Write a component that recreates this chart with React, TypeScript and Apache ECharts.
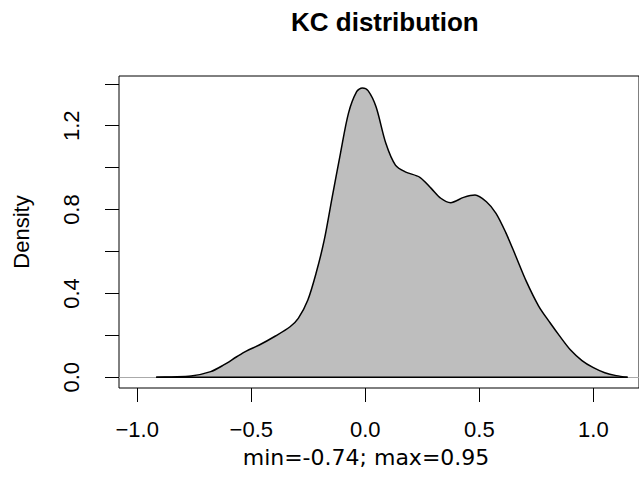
import React, { useEffect, useRef } from "react";
import * as echarts from "echarts";

const titleText = "KC distribution";
const yAxisTitle = "Density";
const xAxisTitle = "min=-0.74; max=0.95";

const kcX = [-0.917, -0.85, -0.764, -0.678, -0.621, -0.564, -0.522, -0.465, -0.394, -0.33, -0.294, -0.252, -0.216, -0.18, -0.145, -0.109, -0.074, -0.038, -0.013, 0.012, 0.047, 0.09, 0.132, 0.175, 0.239, 0.289, 0.331, 0.374, 0.431, 0.481, 0.531, 0.573, 0.616, 0.659, 0.705, 0.76, 0.81, 0.85, 0.9, 0.95, 1.0, 1.05, 1.1, 1.15];
const kcDensity = [0, 0.002, 0.006, 0.027, 0.059, 0.098, 0.125, 0.154, 0.197, 0.241, 0.281, 0.369, 0.496, 0.655, 0.861, 1.068, 1.259, 1.362, 1.38, 1.367, 1.29, 1.116, 1.012, 0.98, 0.954, 0.901, 0.854, 0.833, 0.858, 0.869, 0.837, 0.782, 0.69, 0.58, 0.46, 0.34, 0.26, 0.2, 0.13, 0.08, 0.046, 0.022, 0.008, 0];

const xTickValues = [-1.0, -0.5, 0.0, 0.5, 1.0];
const yTickValues = [0, 0.2, 0.4, 0.6, 0.8, 1.0, 1.2, 1.4];
const yLabelValues = [0, 0.4, 0.8, 1.2];

const FONT = "'Liberation Sans', Arial, Helvetica, sans-serif";
const XLAB_FONT = "'DejaVu Sans', sans-serif";

const fmt = (v: number) => (v < 0 ? "\u2212" + Math.abs(v).toFixed(1) : v.toFixed(1));

export default function App() {
  const ref = useRef<HTMLDivElement>(null);
  useEffect(() => {
    if (!ref.current) return;
    const chart = echarts.init(ref.current, undefined, { renderer: "svg" });
    const curve = kcX.map((x, i) => [x, kcDensity[i]]);
    const baseline = [
      [kcX[0], 0],
      [kcX[kcX.length - 1], 0],
    ];
    chart.setOption({
      animation: false,
      backgroundColor: "#ffffff",
      title: {
        text: titleText,
        left: 286,
        top: 4,
        textStyle: { fontFamily: FONT, fontWeight: "bold", fontSize: 26, color: "#000" },
      },
      graphic: [
        {
          type: "text",
          x: 366,
          y: 457,
          style: {
            text: xAxisTitle,
            align: "center",
            verticalAlign: "middle",
            fontFamily: XLAB_FONT,
            fontSize: 22,
            fill: "#000",
          },
        },
      ],
      grid: {
        left: 119,
        top: 76,
        right: -14,
        bottom: 100,
        show: true,
        borderColor: "#000",
        borderWidth: 1,
        backgroundColor: "transparent",
      },
      xAxis: {
        type: "value",
        min: -1.08,
        max: 1.2,
        splitLine: { show: false },
        axisLine: { show: false, onZero: false },
        axisTick: { show: true, length: 14, customValues: xTickValues, lineStyle: { color: "#000" } },
        axisLabel: {
          customValues: xTickValues,
          formatter: fmt,
          fontFamily: FONT,
          fontSize: 22,
          color: "#000",
          margin: 30,
        },
      },
      yAxis: {
        type: "value",
        min: -0.051,
        max: 1.437,
        splitLine: { show: false },
        axisLine: { show: false, onZero: false },
        axisTick: { show: true, length: 14, customValues: yTickValues, lineStyle: { color: "#000" } },
        axisLabel: {
          customValues: yLabelValues,
          formatter: (v: number) => v.toFixed(1),
          rotate: 90,
          fontFamily: FONT,
          fontSize: 22,
          color: "#000",
          margin: 37,
        },
        name: yAxisTitle,
        nameLocation: "middle",
        nameRotate: 90,
        nameGap: 87,
        nameTextStyle: { fontFamily: FONT, fontSize: 22, color: "#000" },
      },
      series: [
        {
          type: "line",
          data: curve,
          showSymbol: false,
          smooth: 0.3,
          lineStyle: { color: "#000", width: 1.5 },
          areaStyle: { color: "#bebebe", opacity: 1 },
          markLine: {
            silent: true,
            symbol: "none",
            label: { show: false },
            lineStyle: { color: "#aaaaaa", width: 1, type: "solid" },
            data: [{ yAxis: 0 }],
            z: 1,
          },
          z: 2,
        },
        {
          type: "line",
          data: baseline,
          showSymbol: false,
          lineStyle: { color: "#000", width: 1.5 },
          z: 3,
        },
      ],
    });
    return () => chart.dispose();
  }, []);
  return (
    <div
      ref={ref}
      style={{ position: "absolute", left: 0, top: 0, width: 639, height: 488 }}
    />
  );
}
